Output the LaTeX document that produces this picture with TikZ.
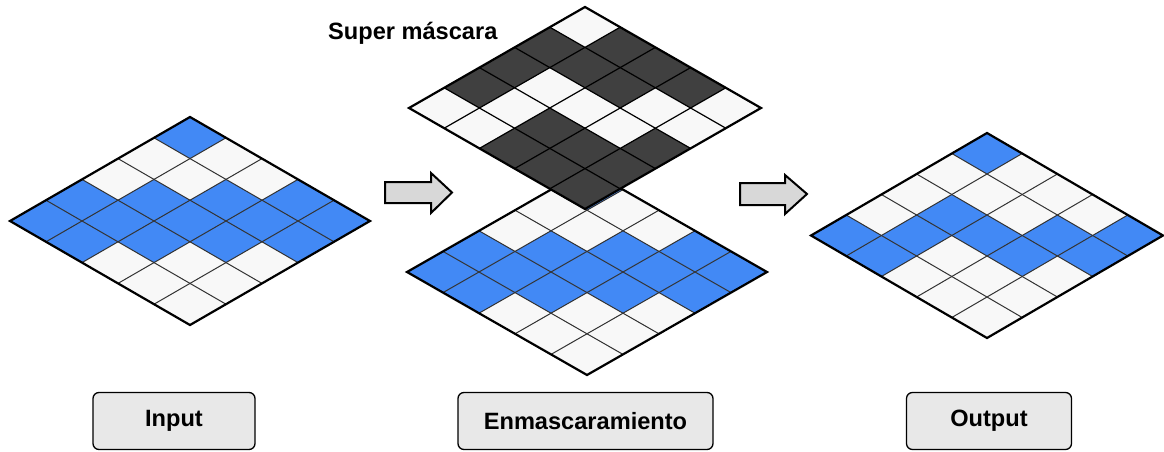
\documentclass[tikz,border=0pt]{standalone}
\usepackage{fontspec}
\setmainfont{Liberation Sans}
\definecolor{azul}{RGB}{66,137,245}
\definecolor{oscuro}{RGB}{64,64,64}
\definecolor{blanco}{RGB}{248,248,248}
\definecolor{caja}{RGB}{232,232,232}
\definecolor{flecha}{RGB}{216,216,216}
\begin{document}
\begin{tikzpicture}[x=1pt,y=-1pt,
  rejilla/.style={draw=black!80,line width=1pt},
  rejillanegra/.style={draw=black,line width=1.2pt},
  borde/.style={draw=black,line width=2.2pt,line join=miter},
  flechagorda/.style={draw=black,fill=flecha,line width=2pt,line join=miter},
  etiqueta/.style={draw=black,fill=caja,line width=1.3pt,rounded corners=6pt,
    minimum height=57pt,font=\fontsize{23.6}{28}\selectfont\bfseries},
  titulo/.style={font=\fontsize{23.6}{28}\selectfont\bfseries,inner sep=0pt}]

\useasboundingbox (0,0) rectangle (1164,452);

%Input
\begin{scope}[shift={(190pt,-117pt)},x={(36pt,-20.8pt)},y={(-36pt,-20.8pt)}]
\fill[blanco] (0,0) -- (5,0) -- (5,5) -- (0,5) -- cycle;
\foreach \i/\j in {0/0,0/3,1/2,2/1,3/0,0/4,1/3,2/2,3/1,4/0,1/4,2/3,3/2,4/1}
  \fill[azul] (\i,\j) -- ++(1,0) -- ++(0,1) -- ++(-1,0) -- cycle;
\foreach \k in {1,...,4} {
  \draw[rejilla] (\k,0) -- (\k,5);
  \draw[rejilla] (0,\k) -- (5,\k);
}
\draw[borde] (0,0) -- (5,0) -- (5,5) -- (0,5) -- cycle;
\end{scope}

%Enmascaramiento, entrada
\begin{scope}[shift={(587pt,-169pt)},x={(36pt,-20.6pt)},y={(-36pt,-20.6pt)}]
\fill[blanco] (0,0) -- (5,0) -- (5,5) -- (0,5) -- cycle;
\foreach \i/\j in {0/0,0/3,1/2,2/1,3/0,0/4,1/3,2/2,3/1,4/0,1/4,2/3,3/2,4/1}
  \fill[azul] (\i,\j) -- ++(1,0) -- ++(0,1) -- ++(-1,0) -- cycle;
\foreach \k in {1,...,4} {
  \draw[rejilla] (\k,0) -- (\k,5);
  \draw[rejilla] (0,\k) -- (5,\k);
}
\draw[borde] (0,0) -- (5,0) -- (5,5) -- (0,5) -- cycle;
\end{scope}

%Super mascara
\begin{scope}[shift={(585pt,-7pt)},x={(35.2pt,-20.2pt)},y={(-35.2pt,-20.2pt)}]
\fill[blanco] (0,0) -- (5,0) -- (5,5) -- (0,5) -- cycle;
\foreach \i/\j in {0/1,1/0,0/2,1/1,2/0,0/3,2/1,3/0,2/3,2/4,3/3,4/2,3/4,4/3,4/4}
  \fill[oscuro] (\i,\j) -- ++(1,0) -- ++(0,1) -- ++(-1,0) -- cycle;
\foreach \k in {1,...,4} {
  \draw[rejillanegra] (\k,0) -- (\k,5);
  \draw[rejillanegra] (0,\k) -- (5,\k);
}
\draw[borde] (0,0) -- (5,0) -- (5,5) -- (0,5) -- cycle;
\end{scope}

%Output
\begin{scope}[shift={(987pt,-133pt)},x={(35.2pt,-20.5pt)},y={(-35.2pt,-20.5pt)}]
\fill[blanco] (0,0) -- (5,0) -- (5,5) -- (0,5) -- cycle;
\foreach \i/\j in {0/0,1/2,0/4,1/3,2/2,3/1,4/0,1/4,3/2,4/1}
  \fill[azul] (\i,\j) -- ++(1,0) -- ++(0,1) -- ++(-1,0) -- cycle;
\foreach \k in {1,...,4} {
  \draw[rejilla] (\k,0) -- (\k,5);
  \draw[rejilla] (0,\k) -- (5,\k);
}
\draw[borde] (0,0) -- (5,0) -- (5,5) -- (0,5) -- cycle;
\end{scope}

%flechas
\draw[flechagorda] (385,182) -- (431,182) -- (431,173) -- (452,192.5) -- (431,213)
  -- (431,203) -- (385,203) -- cycle;
\draw[flechagorda] (740,183) -- (785,183) -- (785,175) -- (807,194) -- (785,214)
  -- (785,205) -- (740,205) -- cycle;

\node[titulo,anchor=base west] (super) at (328,40) {Super máscara};

\node[etiqueta,minimum width=162pt] (input) at (174,421) {Input};
\node[etiqueta,minimum width=255pt] (enmasc) at (585.5,421) {Enmascaramiento};
\node[etiqueta,minimum width=165pt] (output) at (989,421) {Output};

\end{tikzpicture}
\end{document}
